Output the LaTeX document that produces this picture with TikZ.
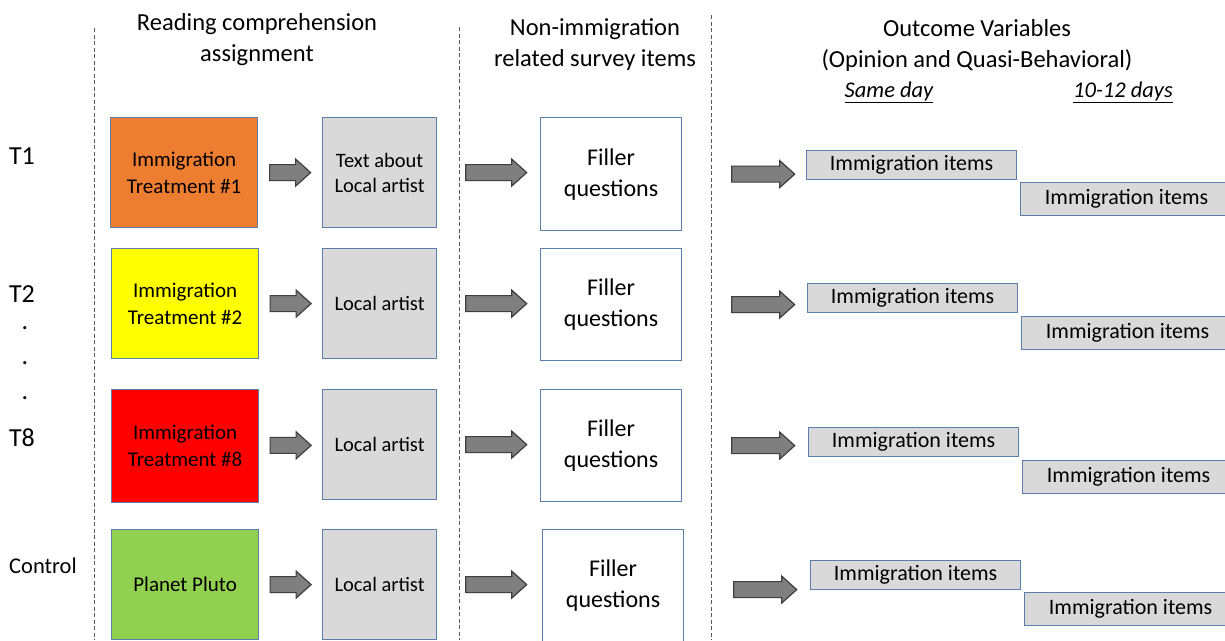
\documentclass[tikz,border=0pt]{standalone}
\usepackage{fontspec}
\setmainfont{Carlito}
\usetikzlibrary{calc}
\definecolor{bordc}{HTML}{5B7FA8}
\definecolor{boxgray}{HTML}{D9D9D9}
\definecolor{t1col}{HTML}{ED7D31}
\definecolor{t2col}{HTML}{FFFF00}
\definecolor{t8col}{HTML}{FF0000}
\definecolor{ctlcol}{HTML}{92D050}
\definecolor{arrfill}{HTML}{7F7F7F}
\definecolor{arrline}{HTML}{3F3F3F}
\definecolor{sepline}{HTML}{595959}
\tikzset{
  basebox/.style={draw=bordc, line width=1.2pt, anchor=north west, align=center, inner sep=0pt},
  treatbox/.style={basebox, minimum width=147pt, minimum height=110pt, font=\fontsize{21}{27}\selectfont},
  artbox/.style={basebox, fill=boxgray, minimum width=114pt, minimum height=110pt, font=\fontsize{20.5}{25}\selectfont},
  fillbox/.style={basebox, fill=white, minimum width=141pt, minimum height=112pt, font=\fontsize{24}{31}\selectfont},
  itembox/.style={basebox, fill=boxgray, minimum width=210pt, minimum height=29pt, font=\fontsize{22}{24}\selectfont},
  itembtwo/.style={basebox, fill=boxgray, minimum width=212pt, minimum height=33pt, font=\fontsize{22}{24}\selectfont},
  header/.style={align=center, font=\fontsize{24.5}{31}\selectfont},
  rowlab/.style={font=\fontsize{26}{28}\selectfont},
  seps/.style={draw=sepline, line width=1pt, dash pattern=on 4pt off 2.5pt},
  pics/blockarr/.style={code={
    \draw[fill=arrfill, draw=arrline, line width=1.2pt, line join=miter]
      ({-#1/2},-8) -- ({#1/2-15},-8) -- ({#1/2-15},-13.5) -- ({#1/2},0)
      -- ({#1/2-15},13.5) -- ({#1/2-15},8) -- ({-#1/2},8) -- cycle;}}
}
\begin{document}
\begin{tikzpicture}[x=1pt,y=-1pt]
\useasboundingbox (0,0) rectangle (1225,640);
\fill[white] (0,0) rectangle (1225,640);

% separators
\draw[seps] (94,28) -- (94,640);
\draw[seps] (459,27) -- (459,640);
\draw[seps] (711,15) -- (711,640);

% headers
\node[header] (h1) at (257,40) {Reading comprehension\\assignment};
\node[header] (h2) at (595,45) {Non-immigration\\related survey items};
\node[header] (h3) at (977,45) {Outcome Variables\\(Opinion and Quasi-Behavioral)};
\node[font=\fontsize{22.5}{24}\selectfont\itshape] (sd) at (889,92) {\underline{Same day}};
\node[font=\fontsize{22.5}{24}\selectfont\itshape] (td) at (1123,92) {\underline{10-12 days}};

% row labels
\node[rowlab] (l1) at (22,156) {T1};
\node[rowlab] (l2) at (22,294) {T2};
\node[rowlab] (d1) at (25,328) {.};
\node[rowlab] (d2) at (25,363) {.};
\node[rowlab] (d3) at (25,398) {.};
\node[rowlab] (l8) at (22,438) {T8};
\node[font=\fontsize{22.5}{24}\selectfont] (lc) at (43,566) {Control};

% row 1
\node[treatbox, fill=t1col] (a1) at (110,117) {Immigration\\Treatment \#1};
\node[artbox] (b1) at (322,117) {Text about\\Local artist};
\node[fillbox, minimum height=113pt] (c1) at (540,117) {Filler\\questions};
\node[itembox] (e1) at (806,150) {Immigration items};
\node[itembtwo] (f1) at (1020,182) {Immigration items};
\pic at ($(a1.east)!0.5!(b1.west)$) {blockarr=41};
\pic at ([xshift=59pt]b1.east) {blockarr=61};
\pic at ([xshift=81pt]c1.east) {blockarr=63};

% row 2
\node[treatbox, fill=t2col] (a2) at (111,248) {Immigration\\Treatment \#2};
\node[artbox] (b2) at (322,248) {Local artist};
\node[fillbox] (c2) at (540,248) {Filler\\questions};
\node[itembox] (e2) at (807,283) {Immigration items};
\node[itembtwo] (f2) at (1021,316) {Immigration items};
\pic at ($(a2.east)!0.5!(b2.west)$) {blockarr=41};
\pic at ([xshift=59pt]b2.east) {blockarr=61};
\pic at ([xshift=81pt]c2.east) {blockarr=63};

% row 3
\node[treatbox, fill=t8col, minimum height=113pt] (a3) at (111,389) {Immigration\\Treatment \#8};
\node[artbox] (b3) at (322,389) {Local artist};
\node[fillbox] (c3) at (540,389) {Filler\\questions};
\node[itembox] (e3) at (808,427) {Immigration items};
\node[itembtwo] (f3) at (1022,460) {Immigration items};
\pic at ($(a3.east)!0.5!(b3.west)$) {blockarr=41};
\pic at ([xshift=59pt]b3.east) {blockarr=61};
\pic at ([xshift=81pt]c3.east) {blockarr=63};

% control row
\node[treatbox, fill=ctlcol] (a4) at (111,529) {Planet Pluto};
\node[artbox] (b4) at (322,529) {Local artist};
\node[fillbox] (c4) at (542,529) {Filler\\questions};
\node[itembox] (e4) at (810,560) {Immigration items};
\node[itembtwo] (f4) at (1024,592) {Immigration items};
\pic at ($(a4.east)!0.5!(b4.west)$) {blockarr=41};
\pic at ([xshift=59pt]b4.east) {blockarr=61};
\pic at ([xshift=81pt,yshift=-4pt]c4.east) {blockarr=63};
\end{tikzpicture}
\end{document}
